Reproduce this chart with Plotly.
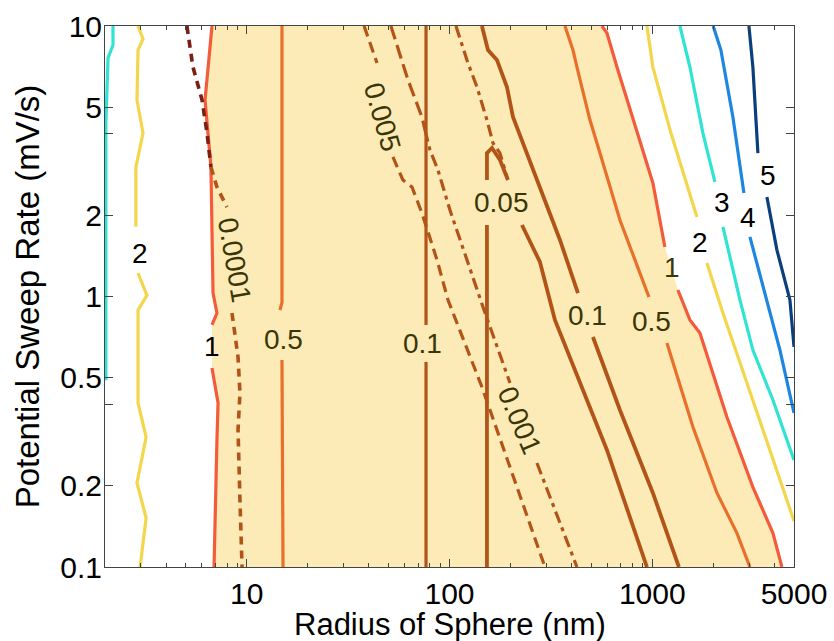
import numpy as np
import plotly.graph_objects as go

FONT = "Liberation Sans, Arial, Helvetica, sans-serif"

# ---------------- axis ticks ----------------
X_TICKS = [10, 100, 1000, 5000]
X_TICKTEXT = ["10", "100", "1000", "5000"]
X_MINOR = [3, 4, 5, 6, 7, 8, 9, 20, 30, 40, 50, 60, 70, 80, 90,
           200, 300, 400, 500, 600, 700, 800, 900, 2000, 3000, 4000]
Y_TICKS = [0.1, 0.2, 0.4, 0.5, 1, 2, 4, 5, 10]
Y_TICKTEXT = ["0.1", "0.2", "", "0.5", "1", "2", "", "5", "10"]

# ---------------- contour lines (radius nm, sweep rate mV/s) ----------------
# value 3, left (cyan)
C3L_X = [2.19, 2.19, 2.07, 2.02, 2.02]
C3L_Y = [10, 8.51, 7.62, 4.38, 0.49]
# value 2, left (yellow)
Y2L_X = [2.91, 3.08, 2.91, 2.875, 3.08, 2.84, 2.84, None, 2.91, 3.22, 2.91, 2.91, 3.19, 2.875, 3.19, 2.98]
Y2L_Y = [10, 8.95, 8.15, 5.33, 4.02, 3.01, 1.81, None, 1.22, 1.01, 0.891, 0.404, 0.302, 0.2044, 0.1518, 0.1]
# value 1, left (red)
ONE_L_X = [6.74, 6.44, 6.23, 6.66, 6.74, 6.82, 7.13, 6.74, None, 6.74, 7.22, 7.13, 6.90]
ONE_L_Y = [10, 7.05, 5.33, 3.01, 2.035, 1.03, 0.869, 0.785, None, 0.544, 0.404, 0.295, 0.1]
# value 1, right (red)
ONE_R_X = [564.8, 597.6, 669.6, 840.2, 1007, 1154, None, 1338, 1533, 1718, 2334, 3135, 3935, 4358]
ONE_R_Y = [10, 9.42, 7.05, 4.02, 2.628, 1.524, None, 1.057, 0.819, 0.733, 0.3584, 0.1975, 0.1335, 0.1]
# value 0.5 (orange)
H5V_X = [14.92, 14.92, 14.58, None, 14.92, 15.1]
H5V_Y = [10, 0.95, 0.891, None, 0.582, 0.1]
H5R_X = [371, 406.3, 425.1, 492.8, 552.1, 692.6, 869.3, 962.7, None, 1181, 1587, 2084, 2615, 3031]
H5R_Y = [10, 8.15, 7.05, 4.49, 3.39, 1.918, 1.22, 0.996, None, 0.673, 0.3293, 0.1878, 0.1335, 0.1]
# value 0.1 (brown)
P1V_X = [76.6, 76.6, None, 76.6, 76.6]
P1V_Y = [10, 0.785, None, 0.573, 0.1]
P1R_X = [144.5, 154.8, 171.4, 192, 205.6, 241, 279.3, 350.5, 430, None, 509.8, 692.6, 1007, 1353]
P1R_Y = [10, 8.15, 7.49, 5.95, 4.61, 3.39, 2.54, 1.618, 1.03, None, 0.7085, 0.3806, 0.1878, 0.1]
# value 0.05 (brown)
F05_X = [153, 153, None, 153, 153, 162, 177.4, 194.2, None, 227.7, 279.3, 331, 439.8, 597.6, 941.2]
F05_Y = [0.1, 1.838, None, 2.696, 3.39, 3.54, 3.196, 2.696, None, 1.838, 1.341, 0.819, 0.479, 0.2707, 0.1]
# dash-dot companion line
DD_X = [107.6, 123.3, 136.6, 153, 163.8, 177.4, 192]
DD_Y = [10, 7.30, 5.95, 4.49, 3.694, 3.39, 2.766]
# 0.0001 dashed line (dark red upper part, brown lower part)
D4M_X = [5.07, 5.43, 6.02, 6.37, 6.66]
D4M_Y = [10, 7.05, 5.33, 4.02, 3.01]
D4B_X = [6.66, 7.13, 7.99, None, 8.46, 9.06, 9.26, 9.06, 9.26, 9.48]
D4B_Y = [3.01, 2.54, 2.14, None, 0.869, 0.597, 0.44, 0.321, 0.177, 0.1]
# 0.005 dashed line
A_X = [37.9, 43.9, None, 52.6, 58.9, 65.3, 73.1, 86.8, 98.3, 144.5, 295.6]
A_Y = [10, 7.30, None, 3.28, 2.696, 2.54, 2.035, 1.364, 0.971, 0.463, 0.1]
# 0.001 dashed line
B_UP_X = [51.4, 62.4, 73.1, 75.7]
B_UP_Y = [10, 6.32, 4.61, 4.13]
B_LO_X = [75.7, 80.1, 87.7, 100.5, 122, 146.2, 198.7, None, 269.9, 425.1]
B_LO_Y = [4.13, 3.48, 2.936, 2.088, 1.364, 0.915, 0.479, None, 0.2423, 0.1]
# value 2, 3, 4, 5 right
Y2R_X = [941.2, 1007, 1236, 1661, None, 1860, 2231, 2930, 3804, 5000]
Y2R_Y = [10, 7.05, 4.02, 1.967, None, 1.33, 0.869, 0.479, 0.2707, 0.148]
C3R_X = [1369, 1533, 1777, 2037, None, 2231, 2706, 3135, 3935, 5000]
C3R_Y = [10, 7.05, 4.02, 2.651, None, 1.81, 0.971, 0.634, 0.4145, 0.2487]
B4R_X = [1997, 2180, 2498, 2831, None, 3031, 3676, 4262, 5000]
B4R_Y = [10, 8.15, 4.61, 2.413, None, 1.66, 0.971, 0.634, 0.371]
N5R_X = [2997, 3135, 3319, None, 3676, 4120, 4774, 5000]
N5R_Y = [10, 7.05, 3.39, None, 2.332, 1.485, 0.971, 0.651]

# ---------------- contour labels ----------------
LBL_TEXT = ["2", "1", "0.0001", "0.5", "0.005", "0.1", "0.05", "0.001",
            "0.1", "0.5", "1", "2", "3", "4", "5"]
LBL_X = [2.98, 6.74, 8.75, 15.1, 46.4, 74.0, 181.5, 222.6,
         481.6, 996, 1250, 1718, 2205, 2964, 3718]
LBL_Y = [1.448, 0.651, 1.364, 0.691, 4.61, 0.673, 2.217, 0.3495,
         0.854, 0.805, 1.285, 1.59, 2.217, 1.951, 2.813]
LBL_ANGLE = [0, 0, 80, 0, 74, 0, 0, 67, 0, 0, 0, 0, 0, 0, 0]
LBL_INSIDE = [False, False, True, True, True, True, True, True,
              True, True, True, False, False, False, False]

# ---------------- colours ----------------
FILL = "#FCEBB6"
RED = "#F45B3B"
ORANGE = "#E8702A"
BROWN = "#B25418"
MAROON = "#7D1E14"
YELLOW = "#F4D64C"
CYAN = "#30E3D2"
BLUE = "#1C86E0"
NAVY = "#0A3F7F"
OLIVE = "#3B3608"

fig = go.Figure()

# filled region between the two "1" contours
lx = [v for v in ONE_L_X if v is not None]
ly = [v for v in ONE_L_Y if v is not None]
rx = [v for v in ONE_R_X if v is not None]
ry = [v for v in ONE_R_Y if v is not None]
fig.add_trace(go.Scatter(x=lx + rx[::-1], y=ly + ry[::-1], mode="lines",
                         fill="toself", fillcolor=FILL, line=dict(width=0),
                         hoverinfo="skip", showlegend=False))


def add_line(x, y, color, width=3.2, dash="solid"):
    fig.add_trace(go.Scatter(x=x, y=y, mode="lines",
                             line=dict(color=color, width=width, dash=dash),
                             connectgaps=False, hoverinfo="skip", showlegend=False))


add_line(C3L_X, C3L_Y, CYAN)
add_line(Y2L_X, Y2L_Y, YELLOW)
add_line(ONE_L_X, ONE_L_Y, RED)
add_line(H5V_X, H5V_Y, ORANGE)
add_line(P1V_X, P1V_Y, BROWN)
add_line(A_X, A_Y, BROWN, 3.2, "11px,6px")
add_line(B_UP_X, B_UP_Y, BROWN, 3.2, "14px,6px")
add_line(B_LO_X, B_LO_Y, BROWN, 3.2, "12px,5px,4px,5px")
add_line(DD_X, DD_Y, BROWN, 3.2, "12px,5px,4px,5px")
add_line(F05_X, F05_Y, BROWN, 3.8)
add_line(P1R_X, P1R_Y, BROWN, 3.8)
add_line(H5R_X, H5R_Y, ORANGE)
add_line(ONE_R_X, ONE_R_Y, RED)
add_line(D4M_X, D4M_Y, MAROON, 3.6, "8px,6px")
add_line(D4B_X, D4B_Y, BROWN, 3.6, "8px,6px")
add_line(Y2R_X, Y2R_Y, YELLOW)
add_line(C3R_X, C3R_Y, CYAN)
add_line(B4R_X, B4R_Y, BLUE)
add_line(N5R_X, N5R_Y, NAVY)

annotations = []
for t, x, y, a, ins in zip(LBL_TEXT, LBL_X, LBL_Y, LBL_ANGLE, LBL_INSIDE):
    annotations.append(dict(text=t, x=np.log10(x), y=np.log10(y), xref="x", yref="y",
                            showarrow=False, textangle=a,
                            font=dict(family=FONT, size=28, color=OLIVE if ins else "black")))

annotations.append(dict(text="Radius of Sphere (nm)", xref="paper", yref="paper",
                        x=0.5, y=-0.1055, xanchor="center", yanchor="middle", showarrow=False,
                        borderpad=0,
                        font=dict(family=FONT, size=31, color="black")))
annotations.append(dict(text="Potential Sweep Rate (mV/s)", xref="paper", yref="paper",
                        x=-0.112, y=0.5, xanchor="center", yanchor="middle", showarrow=False,
                        textangle=-90, font=dict(family=FONT, size=33, color="black")))

axis_common = dict(showgrid=False, zeroline=False, showline=True, linecolor="#444",
                   linewidth=1, mirror="ticks", ticks="inside", ticklen=8, tickwidth=1,
                   tickcolor="#444", automargin=False,
                   tickfont=dict(family=FONT, size=30, color="black"))

fig.update_layout(
    width=834, height=641,
    margin=dict(l=105, r=40, t=26, b=74, autoexpand=False),
    paper_bgcolor="white", plot_bgcolor="white",
    showlegend=False,
    xaxis=dict(type="log", range=[np.log10(2), np.log10(5000)],
               tickmode="array", tickvals=X_TICKS, ticktext=X_TICKTEXT,
               minor=dict(tickvals=X_MINOR, ticks="inside", ticklen=4, tickcolor="#444"),
               **axis_common),
    yaxis=dict(type="log", range=[-1, 1],
               tickmode="array", tickvals=Y_TICKS, ticktext=Y_TICKTEXT,
               ticklabelstandoff=-4,
               **axis_common),
    annotations=annotations,
)

fig.write_html("out.html", config={"displayModeBar": False},
               post_script="document.body.style.margin='0';document.body.style.overflow='hidden';")
